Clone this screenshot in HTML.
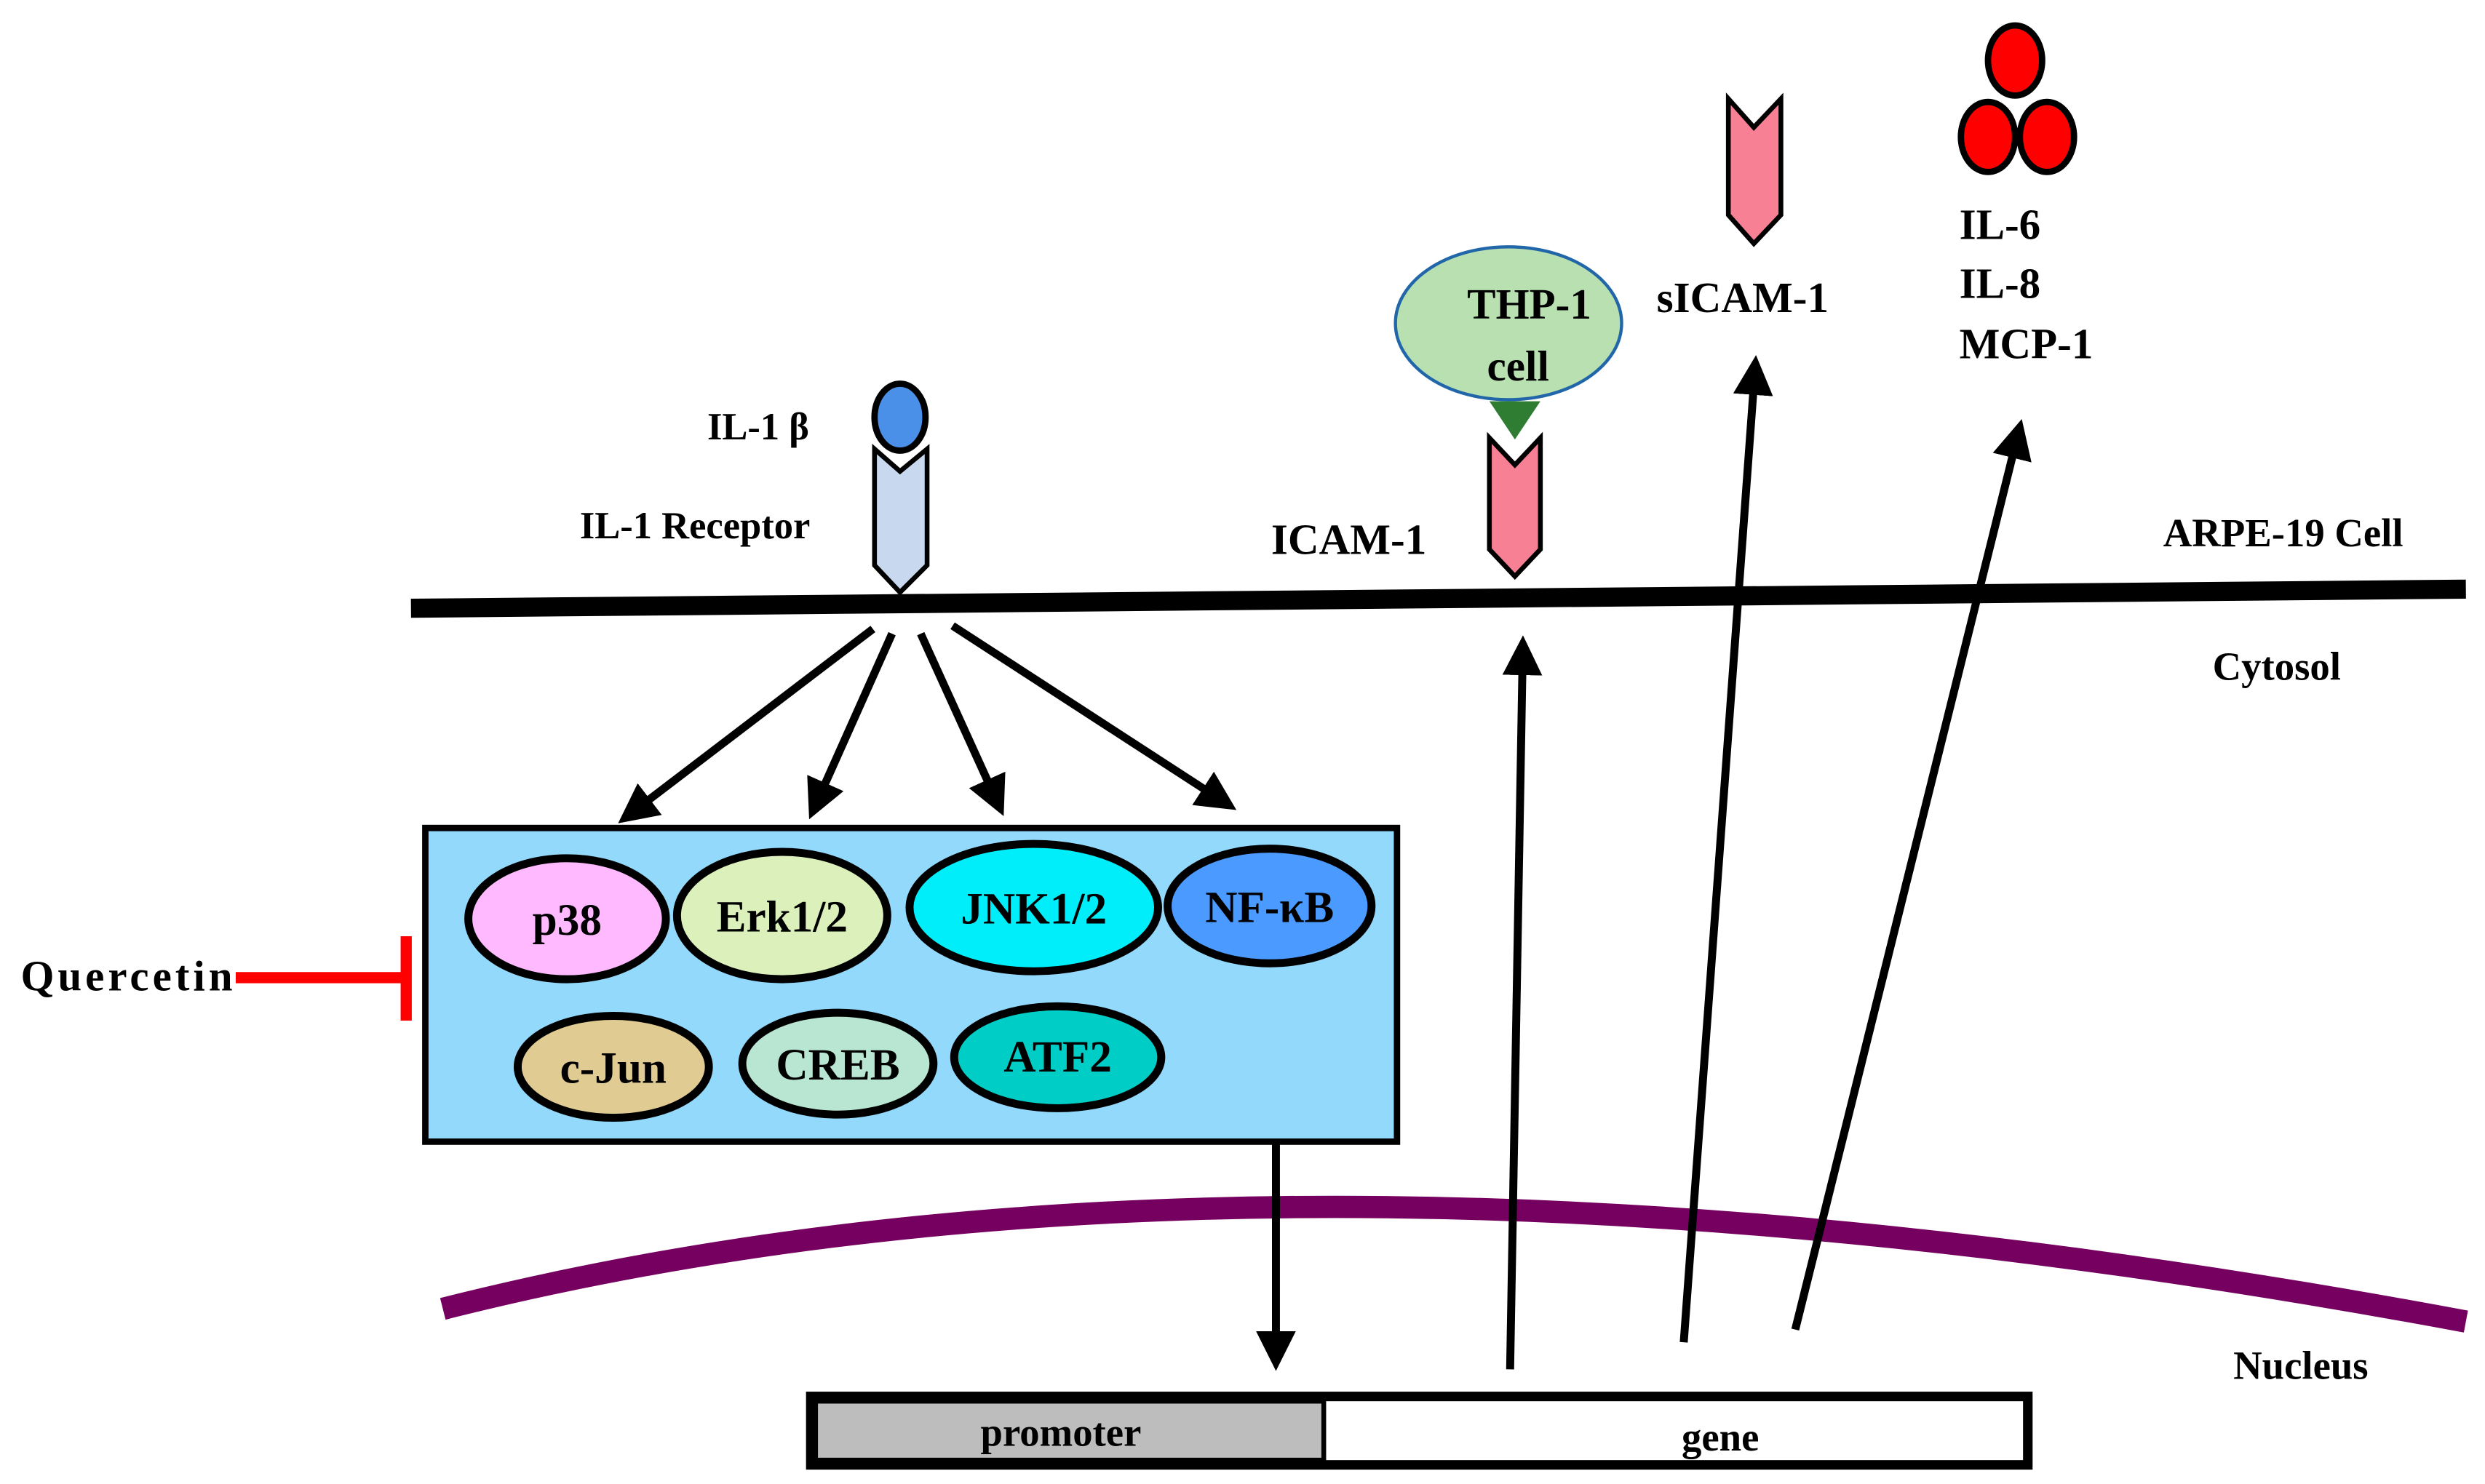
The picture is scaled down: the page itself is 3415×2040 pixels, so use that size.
<!DOCTYPE html>
<html><head><meta charset="utf-8"><style>html,body{margin:0;padding:0;background:#fff}svg{display:block}</style></head>
<body>
<svg width="3415" height="2040" viewBox="0 0 1560 932" preserveAspectRatio="none" xmlns="http://www.w3.org/2000/svg" font-family="'Liberation Serif',serif" font-weight="bold">
<defs>
<marker id="ah" viewBox="0 0 10 10" refX="8" refY="5" markerWidth="5" markerHeight="5" orient="auto" markerUnits="strokeWidth"><path d="M0,0 L10,5 L0,10 z" fill="#000"/></marker>
</defs>
<line x1="258" y1="382" x2="1548" y2="370" stroke="#000" stroke-width="12"/>
<path d="M278,822 Q800,690 1548,830" fill="none" stroke="#760060" stroke-width="14"/>
<ellipse cx="565" cy="262" rx="16" ry="21" fill="#4a90e8" stroke="#000" stroke-width="4"/>
<polygon points="549,282 565,296 582,282 582,355 565,372 549,355" fill="#c8d8ee" stroke="#000" stroke-width="3"/>
<text x="444" y="276" font-size="24">IL-1 β</text>
<text x="364" y="338" font-size="24">IL-1 Receptor</text>
<ellipse cx="947" cy="203" rx="71" ry="48" fill="#b8e0b0" stroke="#2266aa" stroke-width="2"/>
<text x="960" y="200" font-size="27" text-anchor="middle">THP-1</text>
<text x="953" y="239" font-size="27" text-anchor="middle">cell</text>
<polygon points="935,252 967,252 951,276" fill="#2e7d32"/>
<polygon points="935,275 951,292 967,275 967,345 951,362 935,345" fill="#f78094" stroke="#000" stroke-width="3"/>
<text x="798" y="348" font-size="27">ICAM-1</text>
<polygon points="1085,62 1101,80 1118,62 1118,135 1101,153 1085,135" fill="#f78094" stroke="#000" stroke-width="3"/>
<text x="1040" y="196" font-size="27">sICAM-1</text>
<ellipse cx="1265" cy="38" rx="17" ry="22" fill="#f00" stroke="#000" stroke-width="4"/>
<ellipse cx="1248" cy="86" rx="17" ry="22" fill="#f00" stroke="#000" stroke-width="4"/>
<ellipse cx="1285" cy="86" rx="17" ry="22" fill="#f00" stroke="#000" stroke-width="4"/>
<text x="1230" y="150" font-size="27">IL-6</text>
<text x="1230" y="187" font-size="27">IL-8</text>
<text x="1230" y="225" font-size="27">MCP-1</text>
<text x="1358" y="343" font-size="25">ARPE-19 Cell</text>
<text x="1389" y="427" font-size="25">Cytosol</text>
<text x="1402" y="866" font-size="25">Nucleus</text>
<g stroke="#000" stroke-width="5" marker-end="url(#ah)">
<line x1="548" y1="395" x2="392" y2="514"/>
<line x1="560" y1="398" x2="510" y2="510"/>
<line x1="578" y1="398" x2="628" y2="508"/>
<line x1="598" y1="393" x2="772" y2="506"/>
<line x1="801" y1="717" x2="801" y2="856"/>
<line x1="948" y1="860" x2="956" y2="404"/>
<line x1="1057" y1="843" x2="1102" y2="228"/>
<line x1="1127" y1="835" x2="1268" y2="268"/>
</g>
<rect x="267" y="520" width="610" height="197" fill="#93d9fb" stroke="#000" stroke-width="4"/>
<g stroke="#000" stroke-width="5">
<ellipse cx="356" cy="577" rx="62" ry="38" fill="#ffb9ff"/>
<ellipse cx="491" cy="575" rx="66" ry="40" fill="#dcf0bc"/>
<ellipse cx="649" cy="570" rx="78" ry="40" fill="#00eef9"/>
<ellipse cx="797" cy="569" rx="64" ry="36" fill="#4a9aff"/>
<ellipse cx="385" cy="670" rx="60" ry="32" fill="#e0cc92"/>
<ellipse cx="526" cy="668" rx="60" ry="32" fill="#b8e6d2"/>
<ellipse cx="664" cy="664" rx="65" ry="32" fill="#00cec6"/>
</g>
<g font-size="28" text-anchor="middle">
<text x="356" y="587">p38</text>
<text x="491" y="585">Erk1/2</text>
<text x="649" y="580">JNK1/2</text>
<text x="797" y="579">NF-κB</text>
<text x="385" y="680">c-Jun</text>
<text x="526" y="678">CREB</text>
<text x="664" y="673">ATF2</text>
</g>
<text x="13" y="622" font-size="27" textLength="133">Quercetin</text>
<line x1="148" y1="614" x2="255" y2="614" stroke="#f00" stroke-width="7"/>
<line x1="255" y1="588" x2="255" y2="641" stroke="#f00" stroke-width="7"/>
<rect x="509" y="877" width="764" height="43" fill="#fff" stroke="#000" stroke-width="6"/>
<rect x="512" y="880" width="319" height="37" fill="#bdbdbd" stroke="#000" stroke-width="3"/>
<text x="666" y="908" font-size="25" text-anchor="middle">promoter</text>
<text x="1080" y="911" font-size="25" text-anchor="middle">gene</text>
</svg>
</body></html>
